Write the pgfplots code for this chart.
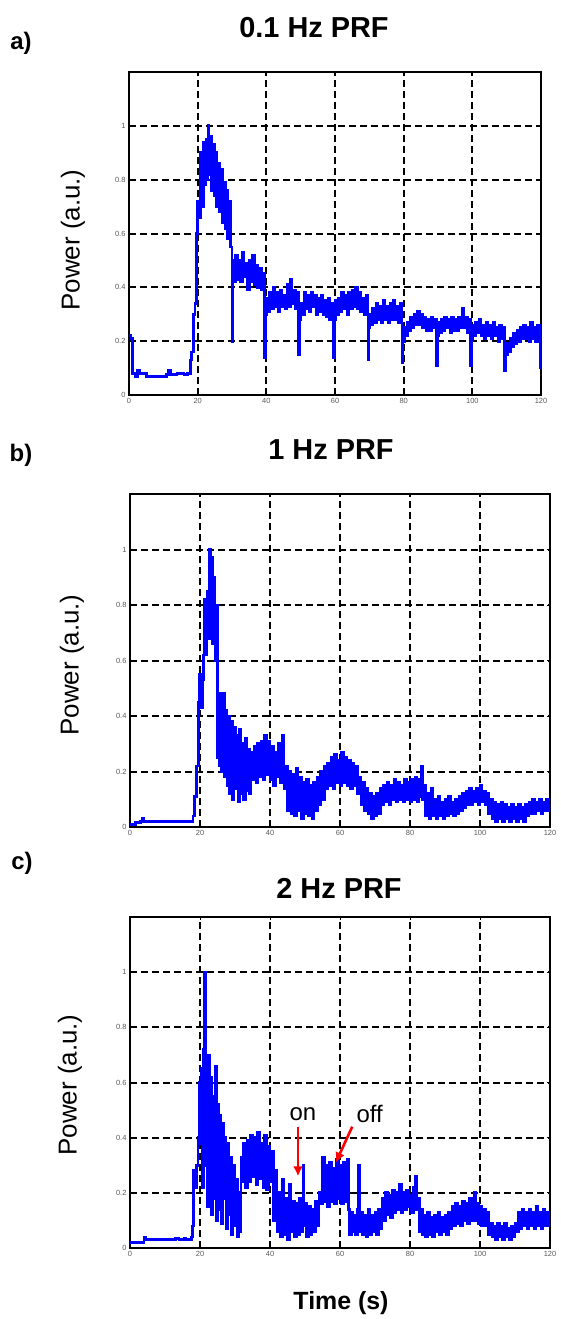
\documentclass[border=0pt]{standalone}
\usepackage{fontspec}
\setmainfont{Liberation Sans}
\usepackage{pgfplots}
\pgfplotsset{compat=1.18}
\usetikzlibrary{arrows.meta}

\definecolor{mblue}{RGB}{0,0,255}

\pgfplotsset{panel/.style={
  scale only axis,
  anchor=south west,
  xmin=0, xmax=120, ymin=0, ymax=1.2,
  xtick={0,20,40,60,80,100,120},
  ytick={0,0.2,0.4,0.6,0.8,1},
  grid=major,
  major grid style={black, line width=2bp, dash pattern=on 7bp off 4bp},
  axis line style={black, line width=2.4bp},
  tick style={black, line width=1bp},
  major tick length=3bp,
  tick align=inside,
  /pgf/number format/assume math mode=true,
  ticklabel style={font=\fontsize{7.5}{8}\selectfont, text=black!65},
  no markers,
},
sig/.style={mblue, line width=2.8bp, const plot, mark=none, line join=miter}}

\begin{document}
\begin{tikzpicture}
\path[use as bounding box] (0,0) rectangle (561bp,-1319bp);

% ---------- a) 0.1 Hz ----------
\begin{axis}[panel, at={(129bp,-395bp)}, width=412bp, height=323bp]
\addplot[sig] table {
0 0.22
0.6 0.21
1.0 0.08
2 0.07
2.5 0.09
3 0.08
5 0.07
8 0.07
11 0.075
11.5 0.09
12 0.075
14 0.08
16 0.075
17 0.08
17.8 0.13
18.3 0.16
18.8 0.30
19.2 0.34
19.6 0.60
20.0 0.72
20.4 0.66
20.8 0.90
21.2 0.70
21.6 0.94
22.0 0.78
22.4 0.95
22.8 0.80
23.0 1.00
23.3 0.82
23.6 0.96
24.0 0.76
24.4 0.93
24.8 0.74
25.2 0.90
25.6 0.70
26.0 0.86
26.4 0.68
26.8 0.84
27.2 0.64
27.6 0.79
28.0 0.62
28.4 0.76
28.8 0.58
29.2 0.72
29.6 0.55
30.0 0.20
30.3 0.50
30.6 0.42
31.0 0.52
31.5 0.43
32.0 0.50
32.5 0.42
33.0 0.53
33.5 0.44
34.0 0.49
34.5 0.39
35.0 0.50
35.5 0.42
36.0 0.52
36.5 0.41
37.0 0.48
37.5 0.40
38.0 0.47
38.5 0.39
39.0 0.45
39.5 0.14
39.8 0.30
40.2 0.36
40.6 0.31
41.0 0.38
41.5 0.32
42.0 0.40
42.5 0.33
43.0 0.38
43.5 0.31
44.0 0.39
44.5 0.33
45.0 0.37
45.5 0.32
46.0 0.41
46.5 0.33
47.0 0.43
47.5 0.34
48.0 0.39
48.5 0.32
49.0 0.38
49.4 0.15
49.7 0.28
50.0 0.34
50.5 0.30
51.0 0.38
51.5 0.32
52.0 0.37
52.5 0.31
53.0 0.38
53.5 0.33
54.0 0.37
54.5 0.30
55.0 0.36
55.5 0.31
56.0 0.37
56.5 0.30
57.0 0.35
57.5 0.29
58.0 0.36
58.5 0.28
59.0 0.34
59.6 0.14
59.9 0.28
60.2 0.35
60.6 0.30
61.0 0.36
61.5 0.31
62.0 0.38
62.5 0.32
63.0 0.37
63.5 0.30
64.0 0.38
64.5 0.32
65.0 0.39
65.5 0.33
66.0 0.40
66.5 0.32
67.0 0.38
67.5 0.31
68.0 0.36
68.5 0.30
69.0 0.37
69.6 0.13
69.9 0.25
70.2 0.30
70.6 0.26
71.0 0.32
71.5 0.27
72.0 0.34
72.5 0.28
73.0 0.33
73.5 0.27
74.0 0.35
74.5 0.28
75.0 0.33
75.5 0.27
76.0 0.34
76.5 0.28
77.0 0.35
77.5 0.28
78.0 0.33
78.5 0.27
79.0 0.34
79.5 0.12
79.8 0.20
80.2 0.25
80.6 0.22
81.0 0.27
81.5 0.24
82.0 0.29
82.5 0.25
83.0 0.30
83.5 0.26
84.0 0.31
84.5 0.26
85.0 0.30
85.5 0.25
86.0 0.29
86.5 0.24
87.0 0.28
87.5 0.24
88.0 0.29
88.5 0.25
89.0 0.28
89.5 0.11
89.8 0.22
90.2 0.27
90.6 0.23
91.0 0.28
91.5 0.24
92.0 0.29
92.5 0.25
93.0 0.28
93.5 0.23
94.0 0.29
94.5 0.24
95.0 0.28
95.5 0.24
96.0 0.29
96.5 0.25
97.0 0.32
97.5 0.25
98.0 0.29
98.5 0.23
99.0 0.28
99.5 0.11
99.8 0.21
100.2 0.26
100.6 0.22
101.0 0.27
101.5 0.23
102.0 0.28
102.5 0.22
103.0 0.26
103.5 0.21
104.0 0.27
104.5 0.22
105.0 0.26
105.5 0.21
106.0 0.27
106.5 0.22
107.0 0.25
107.5 0.20
108.0 0.26
108.5 0.21
109.0 0.25
109.4 0.09
109.8 0.15
110.2 0.19
110.6 0.16
111.0 0.21
111.5 0.18
112.0 0.23
112.5 0.19
113.0 0.24
113.5 0.20
114.0 0.25
114.5 0.21
115.0 0.26
115.5 0.21
116.0 0.25
116.5 0.20
117.0 0.27
117.5 0.21
118.0 0.25
118.5 0.20
119.0 0.26
119.5 0.21
119.8 0.10
120.0 0.10
};
\end{axis}

% ---------- b) 1 Hz ----------
\begin{axis}[panel, at={(130bp,-827bp)}, width=420bp, height=333bp]
\addplot[sig] table {
0 0.01
1.5 0.015
3.0 0.02
3.5 0.03
4.0 0.02
8 0.02
12 0.02
17.5 0.02
18.0 0.04
18.5 0.11
19.0 0.22
19.5 0.45
19.8 0.55
20.2 0.43
20.6 0.53
21.0 0.62
21.3 0.82
21.6 0.62
22.0 0.85
22.4 0.68
22.7 1.00
23.0 0.70
23.3 0.97
23.6 0.66
24.0 0.90
24.3 0.60
24.6 0.80
24.9 0.25
25.2 0.48
25.5 0.22
25.8 0.45
26.1 0.20
26.5 0.48
26.9 0.18
27.3 0.42
27.7 0.15
28.1 0.40
28.5 0.12
28.9 0.38
29.3 0.10
29.7 0.36
30.1 0.14
30.5 0.33
30.9 0.09
31.3 0.35
31.7 0.12
32.1 0.30
32.5 0.10
32.9 0.32
33.3 0.13
33.7 0.28
34.1 0.12
34.5 0.27
35.0 0.17
35.5 0.29
36.0 0.16
36.5 0.30
37.0 0.18
37.5 0.31
38.0 0.17
38.5 0.33
39.0 0.19
39.5 0.31
40.0 0.17
40.5 0.29
41.0 0.15
41.5 0.27
42.0 0.18
42.5 0.30
43.0 0.16
43.5 0.33
44.0 0.14
44.5 0.22
45.0 0.06
45.5 0.20
46.0 0.05
46.5 0.19
47.0 0.04
47.5 0.21
48.0 0.06
48.5 0.18
49.0 0.03
49.5 0.16
50.0 0.05
50.5 0.17
51.0 0.04
51.5 0.15
52.0 0.03
52.5 0.16
53.0 0.06
53.5 0.18
54.0 0.08
54.5 0.20
55.0 0.10
55.5 0.22
56.0 0.14
56.5 0.23
57.0 0.15
57.5 0.25
58.0 0.14
58.5 0.26
59.0 0.16
59.5 0.24
60.0 0.15
60.5 0.27
61.0 0.16
61.5 0.25
62.0 0.15
62.5 0.24
63.0 0.14
63.5 0.23
64.0 0.15
64.5 0.22
65.0 0.12
65.5 0.18
66.0 0.08
66.5 0.16
67.0 0.06
67.5 0.14
68.0 0.05
68.5 0.12
69.0 0.03
69.5 0.11
70.0 0.04
70.5 0.12
71.0 0.05
71.5 0.14
72.0 0.08
72.5 0.15
73.0 0.09
73.5 0.16
74.0 0.08
74.5 0.15
75.0 0.10
75.5 0.17
76.0 0.09
76.5 0.16
77.0 0.10
77.5 0.15
78.0 0.09
78.5 0.17
79.0 0.10
79.5 0.16
80.0 0.09
80.5 0.17
81.0 0.10
81.5 0.18
82.0 0.09
82.5 0.17
83.0 0.11
83.3 0.22
83.6 0.10
84.0 0.15
84.5 0.04
85.0 0.12
85.5 0.03
86.0 0.14
86.5 0.04
87.0 0.10
87.5 0.03
88.0 0.11
88.5 0.04
89.0 0.09
89.5 0.03
90.0 0.10
90.5 0.04
91.0 0.11
91.5 0.05
92.0 0.09
92.5 0.04
93.0 0.10
93.5 0.05
94.0 0.11
94.5 0.06
95.0 0.12
95.5 0.07
96.0 0.13
96.5 0.08
97.0 0.14
97.5 0.08
98.0 0.13
98.5 0.09
99.0 0.14
99.5 0.08
100.0 0.15
100.5 0.09
101.0 0.13
101.5 0.08
102.0 0.12
102.5 0.05
103.0 0.10
103.5 0.03
104.0 0.09
104.5 0.02
105.0 0.08
105.5 0.03
106.0 0.09
106.5 0.02
107.0 0.08
107.5 0.03
108.0 0.07
108.5 0.02
109.0 0.08
109.5 0.03
110.0 0.07
110.5 0.02
111.0 0.08
111.5 0.03
112.0 0.07
112.5 0.02
113.0 0.08
113.5 0.04
114.0 0.09
114.5 0.05
115.0 0.10
115.5 0.05
116.0 0.09
116.5 0.06
117.0 0.10
117.5 0.05
118.0 0.09
118.5 0.06
119.0 0.10
119.5 0.06
120.0 0.08
};
\end{axis}

% ---------- c) 2 Hz ----------
\begin{axis}[panel, at={(130bp,-1248bp)}, width=420bp, height=331bp]
\addplot[sig] table {
0 0.02
3.5 0.02
4.0 0.04
4.5 0.03
12.5 0.03
13.0 0.035
14 0.03
15.5 0.035
16 0.03
17.5 0.04
17.8 0.08
18.2 0.28
18.6 0.22
19.0 0.30
19.4 0.40
19.7 0.60
20.0 0.38
20.3 0.65
20.6 0.22
21.0 0.72
21.3 1.00
21.5 0.30
21.8 0.68
22.1 0.15
22.4 0.70
22.7 0.20
23.0 0.62
23.3 0.12
23.6 0.55
23.9 0.18
24.3 0.66
24.6 0.10
25.0 0.52
25.3 0.14
25.7 0.48
26.0 0.09
26.4 0.45
26.7 0.18
27.1 0.40
27.4 0.07
27.8 0.38
28.2 0.12
28.6 0.33
29.0 0.05
29.4 0.30
29.8 0.08
30.2 0.25
30.6 0.04
31.0 0.20
31.4 0.06
31.7 0.33
32.0 0.24
32.5 0.38
33.0 0.22
33.5 0.39
34.0 0.24
34.5 0.41
35.0 0.26
35.5 0.40
36.0 0.23
36.5 0.42
37.0 0.25
37.5 0.38
38.0 0.22
38.5 0.41
39.0 0.21
39.5 0.37
40.0 0.24
40.5 0.35
41.0 0.10
41.5 0.28
42.0 0.06
42.5 0.20
43.0 0.04
43.5 0.25
44.0 0.05
44.5 0.18
45.0 0.03
45.5 0.23
46.0 0.06
46.5 0.17
47.0 0.04
47.5 0.16
48.0 0.05
48.5 0.18
49.0 0.06
49.4 0.30
49.7 0.08
50.0 0.16
50.5 0.04
51.0 0.15
51.5 0.05
52.0 0.14
52.5 0.06
53.0 0.17
53.5 0.08
54.0 0.20
54.5 0.16
55.0 0.33
55.5 0.17
56.0 0.30
56.5 0.15
57.0 0.31
57.5 0.17
58.0 0.29
58.5 0.16
59.0 0.32
59.5 0.18
60.0 0.30
60.5 0.16
61.0 0.31
61.5 0.17
62.0 0.32
62.4 0.14
62.8 0.05
63.2 0.13
63.6 0.06
64.0 0.12
64.5 0.05
65.0 0.14
65.3 0.30
65.6 0.06
66.0 0.13
66.5 0.05
67.0 0.12
67.5 0.04
68.0 0.14
68.5 0.05
69.0 0.12
69.5 0.06
70.0 0.13
70.5 0.05
71.0 0.14
71.5 0.07
72.0 0.18
72.5 0.10
73.0 0.20
73.5 0.12
74.0 0.19
74.5 0.11
75.0 0.21
75.5 0.13
76.0 0.20
76.5 0.14
77.0 0.23
77.5 0.13
78.0 0.20
78.5 0.14
79.0 0.21
79.5 0.15
80.0 0.19
80.5 0.13
81.0 0.22
81.5 0.26
81.8 0.14
82.3 0.18
82.6 0.06
83.0 0.14
83.5 0.05
84.0 0.12
84.5 0.04
85.0 0.13
85.5 0.05
86.0 0.11
86.5 0.04
87.0 0.12
87.5 0.06
88.0 0.13
88.5 0.05
89.0 0.11
89.5 0.06
90.0 0.12
90.5 0.05
91.0 0.13
91.5 0.07
92.0 0.15
92.5 0.08
93.0 0.16
93.5 0.09
94.0 0.15
94.5 0.08
95.0 0.17
95.5 0.10
96.0 0.16
96.5 0.09
97.0 0.18
97.5 0.10
98.0 0.17
98.4 0.20
98.8 0.10
99.2 0.16
99.6 0.09
100.0 0.15
100.5 0.08
101.0 0.14
101.5 0.08
102.0 0.13
102.5 0.05
103.0 0.09
103.5 0.04
104.0 0.08
104.5 0.03
105.0 0.09
105.5 0.04
106.0 0.08
106.5 0.03
107.0 0.09
107.5 0.04
108.0 0.07
108.5 0.03
109.0 0.08
109.5 0.04
110.0 0.09
110.5 0.06
111.0 0.13
111.5 0.07
112.0 0.14
112.5 0.08
113.0 0.13
113.5 0.07
114.0 0.14
114.5 0.08
115.0 0.13
115.5 0.07
116.0 0.15
116.5 0.08
117.0 0.13
117.5 0.07
118.0 0.14
118.5 0.08
119.0 0.13
119.5 0.08
120.0 0.10
};
\draw[red, line width=2.6bp, -{Latex[length=10bp,width=10bp]}] (axis cs:48,0.44) -- (axis cs:48,0.26);
\draw[red, line width=2.6bp, -{Latex[length=10bp,width=10bp]}] (axis cs:63.5,0.44) -- (axis cs:58.8,0.31);
\node[font=\fontsize{24}{28}\selectfont] at (axis cs:49.4,0.485) {on};
\node[font=\fontsize{24}{28}\selectfont] at (axis cs:68.5,0.485) {off};
\end{axis}

% ---------- texts ----------
\node[font=\bfseries\fontsize{24}{28}\selectfont] at (21bp,-43bp) {a)};
\node[font=\bfseries\fontsize{24}{28}\selectfont] at (21bp,-455bp) {b)};
\node[font=\bfseries\fontsize{24}{28}\selectfont] at (22bp,-863bp) {c)};
\node[font=\bfseries\fontsize{29}{33}\selectfont] at (314bp,-28bp) {0.1 Hz PRF};
\node[font=\bfseries\fontsize{29}{33}\selectfont] at (331bp,-450bp) {1 Hz PRF};
\node[font=\bfseries\fontsize{29}{33}\selectfont] at (339bp,-888bp) {2 Hz PRF};
\node[font=\fontsize{26}{30}\selectfont, rotate=90] at (73bp,-240bp) {Power (a.u.)};
\node[font=\fontsize{26}{30}\selectfont, rotate=90] at (72bp,-665bp) {Power (a.u.)};
\node[font=\fontsize{26}{30}\selectfont, rotate=90] at (70bp,-1085bp) {Power (a.u.)};
\node[font=\bfseries\fontsize{25}{29}\selectfont] at (341bp,-1303bp) {Time (s)};
\end{tikzpicture}
\end{document}
